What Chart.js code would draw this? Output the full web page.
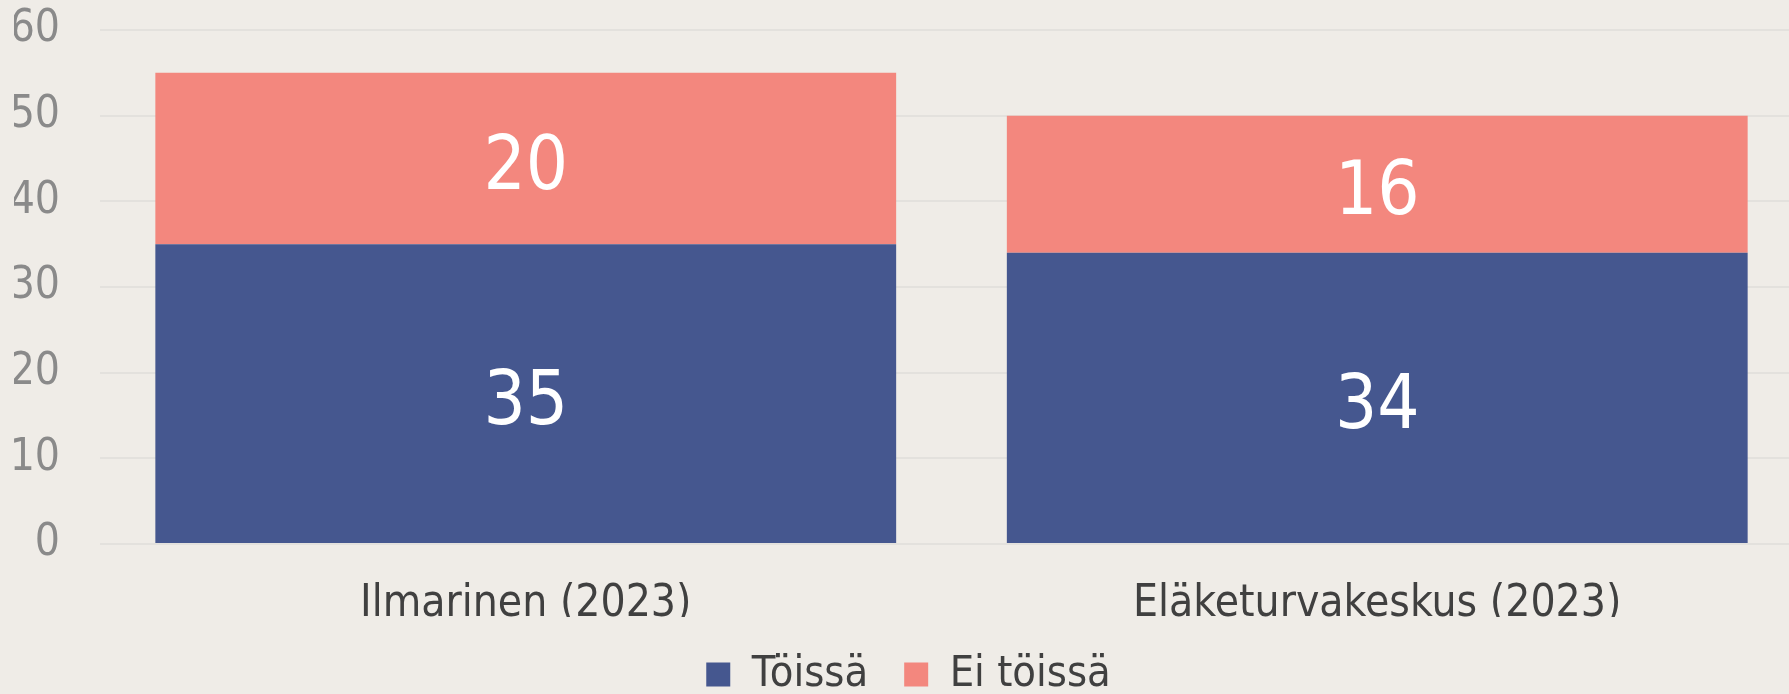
<!DOCTYPE html>
<html>
<head>
<meta charset="utf-8">
<script src="https://cdn.jsdelivr.net/npm/chart.js@4"></script>
<style>
    html, body { margin: 0; background: #efece7; overflow: hidden; }
    #wrap { width: 1803px; height: 694px; position: relative; }
</style>
</head>
<body>
<div id="wrap"><canvas id="chart1"></canvas></div>
<script>
// Data
const categories = ['Ilmarinen (2023)', 'Eläketurvakeskus (2023)'];
const working = [35, 34];
const notWorking = [20, 16];
const yTicks = [0, 10, 20, 30, 40, 50, 60];

const FONT = '"DejaVu Sans Condensed", "Liberation Sans", sans-serif';

// Draws the value in the middle of each bar segment
const barValues = {
    id: 'barValues',
    afterDatasetsDraw(chart) {
        const ctx = chart.ctx;
        const size = 74;
        ctx.save();
        ctx.fillStyle = '#ffffff';
        ctx.font = size + 'px ' + FONT;
        ctx.textAlign = 'center';
        ctx.textBaseline = 'alphabetic';
        chart.data.datasets.forEach((ds, i) => {
            chart.getDatasetMeta(i).data.forEach((bar, j) => {
                const mid = (bar.y + bar.base) / 2;
                ctx.fillText(ds.data[j], bar.x, mid + size * 0.365 + 3);
            });
        });
        ctx.restore();
    }
};

window.addEventListener('DOMContentLoaded', () => {
    const ctx = document.getElementById('chart1').getContext('2d');
    new Chart(ctx, {
        type: 'bar',
        data: {
            labels: categories,
            datasets: [{
                label: 'Töissä',
                data: working,
                backgroundColor: '#45578f'
            },
            {
                label: 'Ei töissä',
                data: notWorking,
                backgroundColor: '#f3877e'
            }]
        },
        options: {
            responsive: true,
            maintainAspectRatio: false,
            animation: false,
            layout: {
                padding: { left: 14, right: 0, top: 30, bottom: -12 }
            },
            datasets: {
                bar: { barPercentage: 0.87, categoryPercentage: 1 }
            },
            plugins: {
                tooltip: { enabled: false },
                legend: {
                    position: 'bottom',
                    labels: {
                        boxWidth: 24,
                        boxHeight: 24,
                        padding: 36,
                        color: '#404040',
                        font: { family: FONT, size: 43 }
                    }
                }
            },
            scales: {
                x: {
                    stacked: true,
                    grid: { display: false },
                    border: { display: false },
                    afterFit: (axis) => {
                        axis.height = 73;
                        axis.paddingLeft = 0;
                        axis.paddingRight = 0;
                    },
                    ticks: {
                        color: '#404040',
                        padding: 26,
                        font: { family: FONT, size: 44 }
                    }
                },
                y: {
                    stacked: true,
                    min: 0,
                    max: 60,
                    afterBuildTicks: (axis) => { axis.ticks = yTicks.map(v => ({ value: v })); },
                    afterFit: (axis) => {
                        axis.width = 86;
                        axis.paddingTop = 0;
                        axis.paddingBottom = 0;
                    },
                    grid: { color: '#e3e1dd', lineWidth: 2, drawTicks: false },
                    border: { display: false },
                    ticks: {
                        color: '#8a8a8a',
                        padding: 40,
                        font: { family: FONT, size: 44 }
                    }
                }
            }
        },
        plugins: [barValues]
    });
});
</script>
</body>
</html>
